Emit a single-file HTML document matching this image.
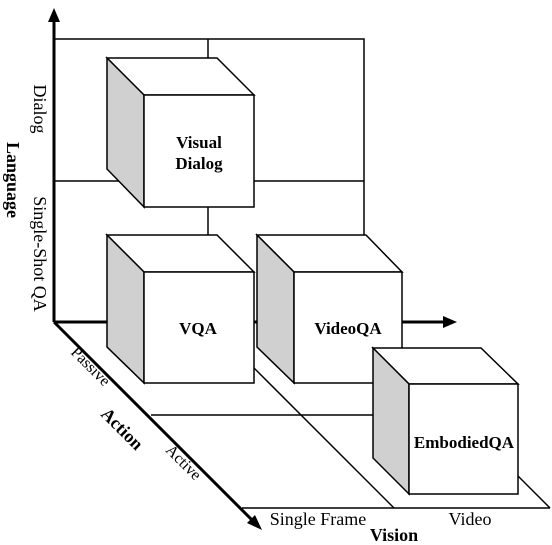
<!DOCTYPE html>
<html><head><style>html,body{margin:0;padding:0;background:#fff}svg{display:block}</style></head>
<body>
<svg width="552" height="545" viewBox="0 0 552 545" xmlns="http://www.w3.org/2000/svg" font-family="Liberation Serif, serif">
<g stroke="#000" stroke-width="1.5" fill="none">
<polyline points="54,39 364,39 364,322"/>
<line x1="54" y1="181" x2="364" y2="181"/>
<line x1="208" y1="39" x2="208" y2="322"/>
<line x1="208" y1="322" x2="394" y2="508"/>
<line x1="364" y1="322" x2="550" y2="508"/>
<line x1="242" y1="508" x2="550" y2="508"/>
<line x1="151" y1="415" x2="373" y2="415"/>
</g>
<g stroke="#000" stroke-width="3" fill="none">
<line x1="54" y1="322" x2="54" y2="18"/>
<line x1="54" y1="322" x2="446" y2="322"/>
<line x1="54" y1="322" x2="254" y2="522"/>
</g>
<polygon points="54,8 48,22 60,22" fill="#000"/>
<polygon points="457,322 443,316 443,328" fill="#000"/>
<polygon points="262,530 247,523 255,515" fill="#000"/>
<g stroke="#000" stroke-width="1.5" stroke-linejoin="miter">
<polygon points="107,58 217,58 254,95 144,95" fill="#fff"/>
<polygon points="107,58 144,95 144,207 107,169" fill="#d0d0d0"/>
<rect x="144" y="95" width="110" height="112" fill="#fff"/>
<polygon points="107,235 217,235 254,272 144,272" fill="#fff"/>
<polygon points="107,235 144,272 144,383 107,347" fill="#d0d0d0"/>
<rect x="144" y="272" width="110" height="111" fill="#fff"/>
<polygon points="257,235 366,235 402,272 294,272" fill="#fff"/>
<polygon points="257,235 294,272 294,383 257,347" fill="#d0d0d0"/>
<rect x="294" y="272" width="108" height="111" fill="#fff"/>
<polygon points="373,348 481,348 518,384 409,384" fill="#fff"/>
<polygon points="373,348 409,384 409,494 373,458" fill="#d0d0d0"/>
<rect x="409" y="384" width="109" height="110" fill="#fff"/>
</g>
<line x1="402" y1="322" x2="446" y2="322" stroke="#000" stroke-width="3"/>
<g font-weight="bold" font-size="17" text-anchor="middle" fill="#000">
<text x="199" y="148">Visual</text>
<text x="199" y="169">Dialog</text>
<text x="198" y="334">VQA</text>
<text x="348" y="334">VideoQA</text>
<text x="464" y="448">EmbodiedQA</text>
</g>
<g font-size="18" fill="#000" text-anchor="middle">
<text transform="translate(34,109) rotate(90)">Dialog</text>
<text transform="translate(34,254) rotate(90)">Single-Shot QA</text>
<text transform="translate(7,180) rotate(90)" font-weight="bold">Language</text>
<text transform="translate(87,370) rotate(45)" font-size="16">Passive</text>
<text transform="translate(118,433) rotate(45)" font-weight="bold">Action</text>
<text transform="translate(180,466) rotate(45)" font-size="16">Active</text>
<text x="318" y="525">Single Frame</text>
<text x="470" y="525">Video</text>
<text x="394" y="541" font-weight="bold">Vision</text>
</g>
</svg>
</body></html>
